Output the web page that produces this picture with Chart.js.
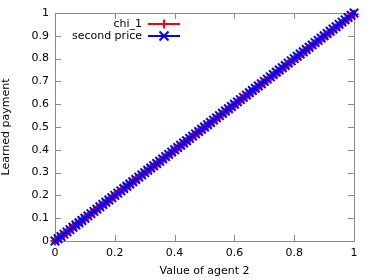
<!DOCTYPE html>
<html>
<head>
<meta charset="utf-8">
<script src="https://cdn.jsdelivr.net/npm/chart.js@4/dist/chart.umd.min.js"></script>
<style>
  html, body { margin: 0; padding: 0; background: #fff; }
  #wrap { width: 374px; height: 280px; }
</style>
</head>
<body>
<div id="wrap"><canvas id="payment"></canvas></div>
<script>
// value of agent 2 (x)
var agentValue = [0,0.01,0.02,0.03,0.04,0.05,0.06,0.07,0.08,0.09,
  0.10,0.11,0.12,0.13,0.14,0.15,0.16,0.17,0.18,0.19,
  0.20,0.21,0.22,0.23,0.24,0.25,0.26,0.27,0.28,0.29,
  0.30,0.31,0.32,0.33,0.34,0.35,0.36,0.37,0.38,0.39,
  0.40,0.41,0.42,0.43,0.44,0.45,0.46,0.47,0.48,0.49,
  0.50,0.51,0.52,0.53,0.54,0.55,0.56,0.57,0.58,0.59,
  0.60,0.61,0.62,0.63,0.64,0.65,0.66,0.67,0.68,0.69,
  0.70,0.71,0.72,0.73,0.74,0.75,0.76,0.77,0.78,0.79,
  0.80,0.81,0.82,0.83,0.84,0.85,0.86,0.87,0.88,0.89,
  0.90,0.91,0.92,0.93,0.94,0.95,0.96,0.97,0.98,0.99,1.00];

// learned payment chi_1 (sits a hair under the second price line)
var chi1 = [0,0.010,0.020,0.030,0.040,0.050,0.060,0.070,0.080,0.090,
  0.100,0.109,0.119,0.129,0.139,0.149,0.159,0.169,0.179,0.189,
  0.199,0.209,0.219,0.229,0.239,0.249,0.259,0.269,0.279,0.289,
  0.299,0.308,0.318,0.328,0.338,0.348,0.358,0.368,0.378,0.388,
  0.398,0.408,0.418,0.428,0.438,0.448,0.458,0.468,0.478,0.488,
  0.498,0.507,0.517,0.527,0.537,0.547,0.557,0.567,0.577,0.587,
  0.597,0.607,0.617,0.627,0.637,0.647,0.657,0.667,0.677,0.687,
  0.697,0.706,0.716,0.726,0.736,0.746,0.756,0.766,0.776,0.786,
  0.796,0.806,0.816,0.826,0.836,0.846,0.856,0.866,0.876,0.886,
  0.896,0.905,0.915,0.925,0.935,0.945,0.955,0.965,0.975,0.985,0.995];

// second price payment
var secondPrice = [0,0.01,0.02,0.03,0.04,0.05,0.06,0.07,0.08,0.09,
  0.10,0.11,0.12,0.13,0.14,0.15,0.16,0.17,0.18,0.19,
  0.20,0.21,0.22,0.23,0.24,0.25,0.26,0.27,0.28,0.29,
  0.30,0.31,0.32,0.33,0.34,0.35,0.36,0.37,0.38,0.39,
  0.40,0.41,0.42,0.43,0.44,0.45,0.46,0.47,0.48,0.49,
  0.50,0.51,0.52,0.53,0.54,0.55,0.56,0.57,0.58,0.59,
  0.60,0.61,0.62,0.63,0.64,0.65,0.66,0.67,0.68,0.69,
  0.70,0.71,0.72,0.73,0.74,0.75,0.76,0.77,0.78,0.79,
  0.80,0.81,0.82,0.83,0.84,0.85,0.86,0.87,0.88,0.89,
  0.90,0.91,0.92,0.93,0.94,0.95,0.96,0.97,0.98,0.99,1.00];

var seriesNames = ['chi_1', 'second price'];
var xTicks = [0, 0.2, 0.4, 0.6, 0.8, 1];
var yTicks = [0, 0.1, 0.2, 0.3, 0.4, 0.5, 0.6, 0.7, 0.8, 0.9, 1];

var FONT = 'DejaVu Sans';
var frameColor = '#8a8a8a';

function pts(ys) {
  return agentValue.map(function (x, i) { return {x: x, y: ys[i]}; });
}

// gnuplot style frame, inward mirrored ticks and the key
var gnuFrame = {
  id: 'gnuFrame',
  beforeDatasetsDraw: function (chart) {
    var c = chart.ctx, a = chart.chartArea;
    var xs = chart.scales.x, ys = chart.scales.y;
    c.save();
    c.strokeStyle = frameColor;
    c.lineWidth = 1;
    c.beginPath();
    xTicks.forEach(function (t) {
      var px = Math.round(xs.getPixelForValue(t)) + 0.5;
      c.moveTo(px, a.bottom); c.lineTo(px, a.bottom - 6);
      c.moveTo(px, a.top); c.lineTo(px, a.top + 6);
    });
    yTicks.forEach(function (t) {
      var py = Math.round(ys.getPixelForValue(t)) + 0.5;
      c.moveTo(a.left, py); c.lineTo(a.left + 6, py);
      c.moveTo(a.right, py); c.lineTo(a.right - 6, py);
    });
    c.stroke();
    c.strokeRect(Math.round(a.left) + 0.5, Math.round(a.top) + 0.5,
      Math.round(a.right - a.left), Math.round(a.bottom - a.top));
    c.restore();
  },
  afterDatasetsDraw: function (chart) {
    var c = chart.ctx;
    c.save();
    c.font = '11px "' + FONT + '"';
    c.textAlign = 'right';
    c.textBaseline = 'middle';
    var rows = [
      {name: seriesNames[0], color: '#ff0000', y: 24, mark: 'plus'},
      {name: seriesNames[1], color: '#0000ff', y: 36, mark: 'x'}
    ];
    rows.forEach(function (r) {
      c.fillStyle = '#000';
      c.fillText(r.name, 142, r.y);
      c.strokeStyle = r.color;
      c.lineWidth = 2;
      c.beginPath();
      c.moveTo(148, r.y); c.lineTo(180, r.y);
      if (r.mark === 'plus') {
        c.moveTo(164, r.y - 4.5); c.lineTo(164, r.y + 4.5);
      } else {
        c.moveTo(159.5, r.y - 4.5); c.lineTo(168.5, r.y + 4.5);
        c.moveTo(159.5, r.y + 4.5); c.lineTo(168.5, r.y - 4.5);
      }
      c.stroke();
    });
    c.restore();
  }
};

new Chart(document.getElementById('payment'), {
  type: 'scatter',
  data: {
    datasets: [
      {
        label: seriesNames[1],
        data: pts(secondPrice),
        showLine: true,
        borderColor: '#0000ff',
        backgroundColor: '#0000ff',
        borderWidth: 2,
        pointStyle: 'crossRot',
        pointRadius: 6,
        pointBorderWidth: 2,
        order: 0,
        clip: 8
      },
      {
        label: seriesNames[0],
        data: pts(chi1),
        showLine: true,
        borderColor: '#ff0000',
        backgroundColor: '#ff0000',
        borderWidth: 2,
        pointStyle: 'cross',
        pointRadius: 4.5,
        pointBorderWidth: 2,
        order: 1,
        clip: 8
      }
    ]
  },
  options: {
    responsive: true,
    maintainAspectRatio: false,
    animation: false,
    events: [],
    layout: { padding: { top: 13, right: 20, left: 0, bottom: 0 } },
    plugins: { legend: { display: false }, tooltip: { enabled: false } },
    scales: {
      x: {
        type: 'linear', min: 0, max: 1,
        grid: { display: false, drawTicks: false }, border: { display: false },
        afterBuildTicks: function (s) { s.ticks = xTicks.map(function (v) { return {value: v}; }); },
        afterFit: function (s) { s.height = 39; },
        ticks: {
          color: '#000', padding: 6, maxRotation: 0,
          font: { family: FONT, size: 11 },
          callback: function (v) { return String(v); }
        },
        title: {
          display: true, text: 'Value of agent 2', color: '#000',
          font: { family: FONT, size: 11 }, padding: { top: 2, bottom: 2 }
        }
      },
      y: {
        type: 'linear', min: 0, max: 1,
        grid: { display: false, drawTicks: false }, border: { display: false },
        afterBuildTicks: function (s) { s.ticks = yTicks.map(function (v) { return {value: v}; }); },
        afterFit: function (s) { s.width = 55; },
        ticks: {
          color: '#000', padding: 6,
          font: { family: FONT, size: 11 },
          callback: function (v) { return String(Math.round(v * 10) / 10); }
        },
        title: {
          display: true, text: 'Learned payment', color: '#000',
          font: { family: FONT, size: 11 }, padding: { top: 0, bottom: 4 }
        }
      }
    }
  },
  plugins: [gnuFrame]
});
</script>
</body>
</html>
